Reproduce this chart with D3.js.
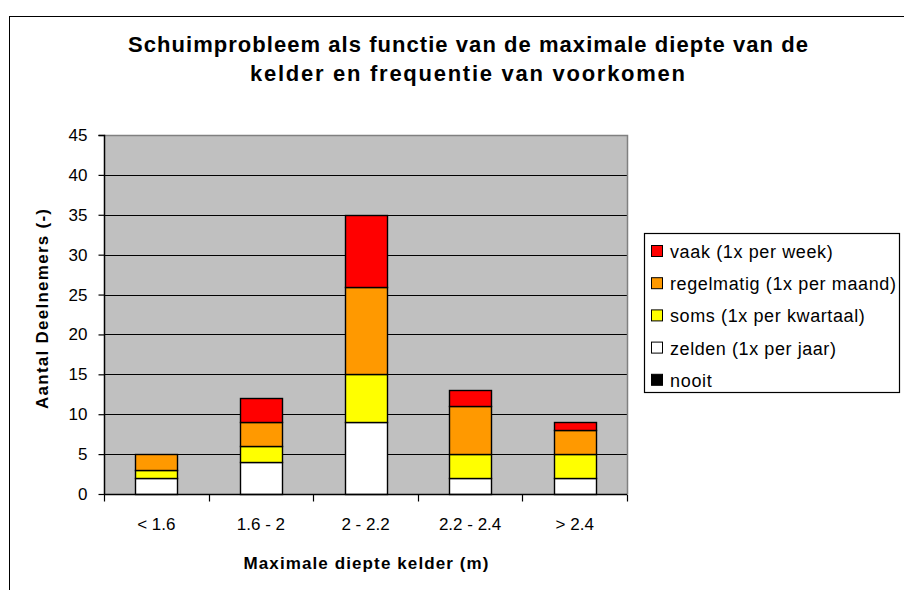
<!DOCTYPE html>
<html>
<head>
<meta charset="utf-8">
<script src="https://cdn.jsdelivr.net/npm/d3@7"></script>
<style>
  body { margin: 0; background: #fff; }
  svg { display: block; font-family: Arial, "Liberation Sans", sans-serif; }
</style>
</head>
<body>
<svg id="chart" width="904" height="590"></svg>
<script>
// Categories (max basement depth) and the stacked series
const categories = ['< 1.6', '1.6 - 2', '2 - 2.2', '2.2 - 2.4', '> 2.4'];
const seriesNames = ['nooit', 'zelden (1x per jaar)', 'soms (1x per kwartaal)', 'regelmatig (1x per maand)', 'vaak (1x per week)'];
const nooit      = [0, 0, 0, 0, 0];
const zelden     = [2, 4, 9, 2, 2];
const soms       = [1, 2, 6, 3, 3];
const regelmatig = [2, 3, 11, 6, 3];
const vaak       = [0, 3, 9, 2, 1];
const yTicks = [0, 5, 10, 15, 20, 25, 30, 35, 40, 45];
const colors = ['#000000', '#ffffff', '#ffff00', '#ff9900', '#ff0000'];

const seriesValues = [nooit, zelden, soms, regelmatig, vaak];
const rows = categories.map((c, i) => {
    const r = { cat: c };
    seriesNames.forEach((s, j) => r[s] = seriesValues[j][i]);
    return r;
});

// Excel renders text a bit wider than the browser does, stretch to match
function stretch(sel, factor) {
    sel.each(function() {
        const w = this.getComputedTextLength();
        d3.select(this).attr('textLength', w * factor).attr('lengthAdjust', 'spacing');
    });
}

const svg = d3.select('#chart');

// Outer chart frame
svg.append('rect')
    .attr('x', 9.5).attr('y', 16.5)
    .attr('width', 1000).attr('height', 1000)
    .attr('fill', '#fff').attr('stroke', '#000').attr('stroke-width', 1);

// Plot area bounds
const pLeft = 104, pRight = 627, pTop = 135, pBottom = 494;

const x = d3.scaleBand().domain(categories).range([pLeft, pRight]).paddingInner(0.6).paddingOuter(0.3);
const xAxisScale = d3.scaleBand().domain(categories).range([pLeft, pRight]);
const y = d3.scaleLinear().domain([0, 45]).range([pBottom, pTop]);

svg.append('rect')
    .attr('x', pLeft).attr('y', pTop)
    .attr('width', pRight - pLeft).attr('height', pBottom - pTop)
    .attr('fill', '#c0c0c0');

// Gridlines
svg.append('g').selectAll('line')
    .data(yTicks.filter(t => t > 0 && t < 45))
    .enter().append('line')
        .attr('x1', pLeft).attr('x2', pRight)
        .attr('y1', d => Math.round(y(d)) + 0.5).attr('y2', d => Math.round(y(d)) + 0.5)
        .attr('stroke', '#000').attr('stroke-width', 1.2);

// Plot border (top & right grey)
svg.append('path')
    .attr('d', `M${pLeft},${pTop + 0.5}H${pRight + 0.5}V${pBottom}`)
    .attr('fill', 'none').attr('stroke', '#808080').attr('stroke-width', 1.5);

// Stacked bars
const stack = d3.stack().keys(seriesNames);
const layers = stack(rows);

svg.append('g').selectAll('g')
    .data(layers)
    .enter().append('g')
        .attr('fill', (d, i) => colors[i])
    .selectAll('rect')
    .data(d => d.filter(p => p[1] - p[0] > 0))
    .enter().append('rect')
        .attr('x', d => Math.round(x(d.data.cat)) + 0.5)
        .attr('y', d => Math.round(y(d[1])) + 0.5)
        .attr('width', Math.round(x.bandwidth()))
        .attr('height', d => Math.round(y(d[0])) - Math.round(y(d[1])))
        .attr('stroke', '#000').attr('stroke-width', 1.4);

// Axes
const yAxis = d3.axisLeft(y).tickValues(yTicks).tickSize(6).tickPadding(11).tickFormat(d3.format('d'));
const gy = svg.append('g').attr('transform', `translate(${pLeft + 0.5},0)`).call(yAxis);
gy.select('.domain').attr('d', `M-6,${pTop + 0.5}H0V${pBottom + 0.5}`).attr('stroke', '#000').attr('stroke-width', 1.5);
gy.selectAll('.tick line').attr('stroke', '#000').attr('stroke-width', 1.2);
gy.selectAll('.tick text').attr('font-size', 17).attr('fill', '#000').attr('font-family', 'Arial, "Liberation Sans", sans-serif');

const xAxis = d3.axisBottom(xAxisScale).tickSize(0).tickPadding(23);
const gx = svg.append('g').attr('transform', `translate(0,${pBottom + 0.5})`).call(xAxis);
gx.select('.domain').attr('d', `M${pLeft},0H${pRight}`).attr('stroke', '#000').attr('stroke-width', 1.5);
gx.selectAll('.tick text').attr('font-size', 17).attr('fill', '#000').attr('font-family', 'Arial, "Liberation Sans", sans-serif');
// Separator ticks between categories
gx.append('g').selectAll('line')
    .data(categories.concat(['end']))
    .enter().append('line')
        .attr('x1', (d, i) => Math.round(pLeft + i * xAxisScale.step()) + 0.5)
        .attr('x2', (d, i) => Math.round(pLeft + i * xAxisScale.step()) + 0.5)
        .attr('y1', 0).attr('y2', 7)
        .attr('stroke', '#000').attr('stroke-width', 1.2);

// Titles
const title = svg.append('g')
    .attr('font-size', 22).attr('font-weight', 'bold');
title.append('text').attr('x', 128).attr('y', 52)
    .attr('textLength', 680).attr('lengthAdjust', 'spacing')
    .text('Schuimprobleem als functie van de maximale diepte van de');
title.append('text').attr('x', 250).attr('y', 81)
    .attr('textLength', 435).attr('lengthAdjust', 'spacing')
    .text('kelder en frequentie van voorkomen');

svg.append('text')
    .attr('x', (pLeft + pRight) / 2 - 122).attr('y', 569)
    .attr('font-size', 17).attr('font-weight', 'bold')
    .attr('textLength', 245).attr('lengthAdjust', 'spacing')
    .text('Maximale diepte kelder (m)');

svg.append('text')
    .attr('transform', `translate(48,409) rotate(-90)`)
    .attr('font-size', 17).attr('font-weight', 'bold')
    .attr('textLength', 200).attr('lengthAdjust', 'spacing')
    .text('Aantal Deelnemers (-)');

// Legend
const legend = svg.append('g');
legend.append('rect')
    .attr('x', 644.5).attr('y', 233.5)
    .attr('width', 255).attr('height', 159)
    .attr('fill', '#fff').attr('stroke', '#000').attr('stroke-width', 1.2);

const legendItems = seriesNames.map((s, i) => ({ name: s, color: colors[i] })).reverse();
const li = legend.selectAll('g.item')
    .data(legendItems)
    .enter().append('g')
        .attr('class', 'item')
        .attr('transform', (d, i) => `translate(651,${251 + i * 32.2})`);
li.append('rect')
    .attr('x', 0.5).attr('y', -5.5)
    .attr('width', 11).attr('height', 11)
    .attr('fill', d => d.color).attr('stroke', '#000').attr('stroke-width', 1);
li.append('text')
    .attr('x', 19).attr('y', 7)
    .attr('font-size', 18)
    .text(d => d.name)
    .call(stretch, 1.07);
</script>
</body>
</html>
